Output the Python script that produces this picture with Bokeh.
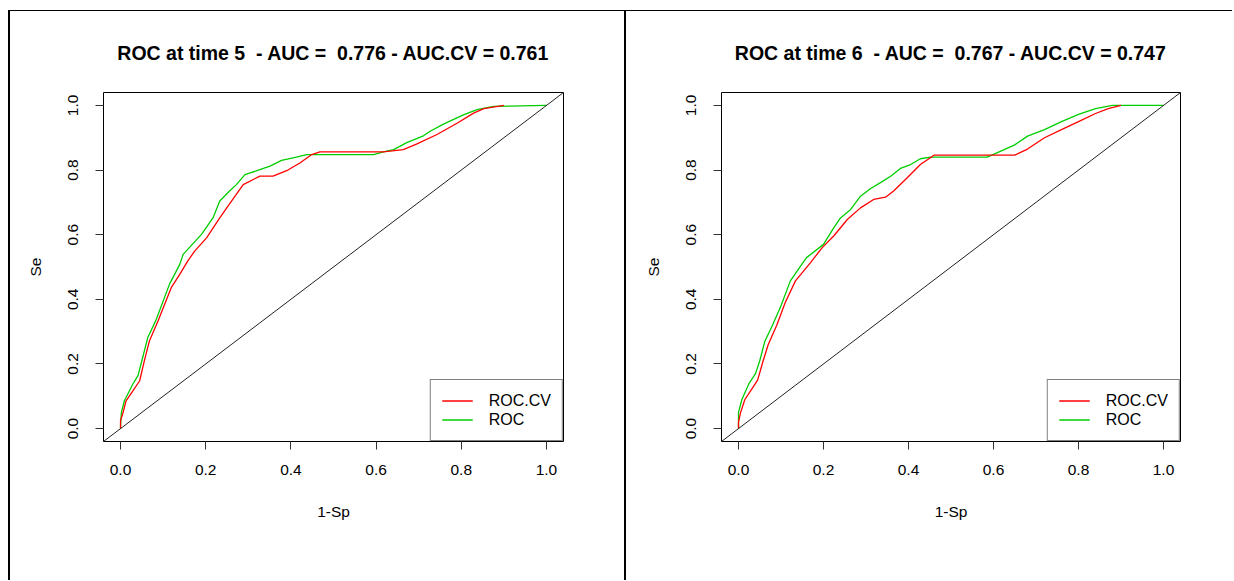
from bokeh.plotting import figure
from bokeh.layouts import row, column
from bokeh.models import (Range1d, FixedTicker, PrintfTickFormatter, Legend,
                          LegendItem, Slope, Div)
from bokeh.embed import file_html
from bokeh.resources import INLINE

# ---------------- data ----------------
titles = ["ROC at time 5 \u00a0- AUC = \u00a00.776 - AUC.CV = 0.761",
          "ROC at time 6 \u00a0- AUC = \u00a00.767 - AUC.CV = 0.747"]
ticks = [0.0, 0.2, 0.4, 0.6, 0.8, 1.0]
legend_labels = ["ROC.CV", "ROC"]

# time 5
t5_roc_fpr = [0.0, 0.0, 0.002, 0.009, 0.029, 0.041, 0.052, 0.064, 0.084, 0.115, 0.123, 0.139,
              0.147, 0.19, 0.217, 0.233, 0.256, 0.272, 0.292, 0.327, 0.351, 0.378, 0.413,
              0.437, 0.453, 0.594, 0.617, 0.641, 0.672, 0.711, 0.727, 0.758, 0.805, 0.837,
              0.876, 1.0]
t5_roc_tpr = [0.0, 0.01, 0.05, 0.086, 0.138, 0.164, 0.22, 0.282, 0.338, 0.447, 0.467, 0.508,
              0.539, 0.601, 0.652, 0.704, 0.735, 0.755, 0.786, 0.801, 0.812, 0.83, 0.84,
              0.848, 0.848, 0.848, 0.856, 0.863, 0.885, 0.906, 0.92, 0.942, 0.971, 0.987,
              0.997, 1.0]
t5_cv_fpr = [0.0, 0.0, 0.005, 0.013, 0.029, 0.045, 0.056, 0.068, 0.088, 0.119, 0.139, 0.158,
             0.174, 0.202, 0.233, 0.256, 0.288, 0.327, 0.358, 0.39, 0.421, 0.449, 0.468,
             0.617, 0.664, 0.696, 0.743, 0.79, 0.829, 0.853, 0.9]
t5_cv_tpr = [0.0, 0.025, 0.045, 0.086, 0.117, 0.148, 0.21, 0.272, 0.333, 0.436, 0.477, 0.519,
             0.549, 0.59, 0.652, 0.695, 0.755, 0.781, 0.781, 0.798, 0.822, 0.848, 0.856,
             0.856, 0.863, 0.881, 0.91, 0.945, 0.976, 0.99, 1.0]

# time 6
t6_roc_fpr = [0.0, 0.0, 0.008, 0.025, 0.04, 0.05, 0.062, 0.08, 0.1, 0.122, 0.146, 0.16, 0.2,
              0.224, 0.24, 0.264, 0.287, 0.311, 0.334, 0.358, 0.381, 0.405, 0.428, 0.452,
              0.585, 0.616, 0.65, 0.68, 0.72, 0.76, 0.8, 0.84, 0.88, 1.0]
t6_roc_tpr = [0.0, 0.05, 0.09, 0.14, 0.17, 0.21, 0.27, 0.32, 0.38, 0.457, 0.503, 0.529, 0.57,
              0.621, 0.652, 0.678, 0.719, 0.743, 0.761, 0.781, 0.805, 0.817, 0.835, 0.84,
              0.84, 0.858, 0.878, 0.905, 0.925, 0.95, 0.972, 0.99, 1.0, 1.0]
t6_cv_fpr = [0.0, 0.0, 0.005, 0.015, 0.03, 0.045, 0.058, 0.07, 0.09, 0.11, 0.134, 0.169, 0.197,
             0.224, 0.256, 0.287, 0.318, 0.346, 0.365, 0.397, 0.428, 0.46, 0.616, 0.65,
             0.68, 0.72, 0.76, 0.8, 0.84, 0.87, 0.9]
t6_cv_tpr = [0.0, 0.02, 0.05, 0.09, 0.12, 0.15, 0.21, 0.26, 0.32, 0.39, 0.457, 0.513, 0.56,
             0.596, 0.647, 0.683, 0.709, 0.716, 0.735, 0.776, 0.817, 0.846, 0.846, 0.846,
             0.865, 0.9, 0.925, 0.95, 0.975, 0.99, 1.0]

RED = "#FF0000"
GREEN = "#00CD00"
FONT = "Liberation Sans"
PANEL_H = 569


def make_panel(title, roc_x, roc_y, cv_x, cv_y, width, left, right):
    p = figure(width=width, height=PANEL_H,
               x_range=Range1d(-0.04, 1.04), y_range=Range1d(-0.04, 1.04),
               output_backend="svg", toolbar_location=None, title=title,
               min_border_left=left, min_border_right=right,
               min_border_top=80, min_border_bottom=PANEL_H - 430,
               x_axis_label="1-Sp", y_axis_label="Se")
    p.background_fill_color = "white"
    p.border_fill_color = "white"
    p.outline_line_color = "black"
    p.outline_line_width = 1
    p.grid.visible = False

    p.title.text_font = FONT
    p.title.text_font_style = "bold"
    p.title.text_font_size = "19.5px"
    p.title.text_color = "black"
    p.title.align = "center"
    p.title.standoff = 57

    for ax in (p.xaxis[0], p.yaxis[0]):
        ax.ticker = FixedTicker(ticks=ticks)
        ax.formatter = PrintfTickFormatter(format="%.1f")
        ax.axis_line_color = None
        ax.major_tick_out = 8
        ax.major_tick_in = 0
        ax.major_tick_line_color = "#333333"
        ax.minor_tick_line_color = None
        ax.major_label_text_font = FONT
        ax.major_label_text_font_size = "15.5px"
        ax.major_label_text_color = "black"
        ax.axis_label_text_font = FONT
        ax.axis_label_text_font_size = "15.5px"
        ax.axis_label_text_font_style = "normal"
        ax.axis_label_text_color = "black"
    p.xaxis.major_label_standoff = 15
    p.xaxis.axis_label_standoff = 25
    p.yaxis.major_label_orientation = "vertical"
    p.yaxis.major_label_standoff = 17
    p.yaxis.axis_label_standoff = 22

    p.add_layout(Slope(gradient=1, y_intercept=0, line_color="#222222", line_width=1))
    r_roc = p.line(roc_x, roc_y, line_color=GREEN, line_width=1.3)
    r_cv = p.line(cv_x, cv_y, line_color=RED, line_width=1.3)

    legend = Legend(items=[LegendItem(label=legend_labels[0], renderers=[r_cv]),
                           LegendItem(label=legend_labels[1], renderers=[r_roc])],
                    location="bottom_right", margin=0, padding=11, spacing=0,
                    glyph_width=31, glyph_height=19, label_height=19,
                    label_standoff=16, border_line_color="black",
                    border_line_width=1, background_fill_alpha=1.0,
                    label_text_font=FONT, label_text_font_size="16px",
                    label_text_color="black")
    p.add_layout(legend)
    return p


# panels: p1 spans page x 10..624, p2 spans 626..1232
p1 = make_panel(titles[0], t5_roc_fpr, t5_roc_tpr, t5_cv_fpr, t5_cv_tpr,
                width=614, left=93, right=61)
p2 = make_panel(titles[1], t6_roc_fpr, t6_roc_tpr, t6_cv_fpr, t6_cv_tpr,
                width=606, left=95, right=52)

# table borders of the original document (plain layout elements)
BLACK = {"background-color": "black"}


def block(w, h, styles=None):
    return Div(width=w, height=h, margin=0, styles=styles or {})


top_gap = block(1232, 10)
top_line = row(block(8, 1), block(1224, 1, BLACK), spacing=0, margin=0)
main = row(block(8, PANEL_H),
           block(2, PANEL_H, BLACK),
           p1,
           block(2, PANEL_H, BLACK),
           p2, spacing=0, margin=0)
layout = column(top_gap, top_line, main, spacing=0, margin=0)

open("out.html", "w").write(file_html(layout, INLINE))
